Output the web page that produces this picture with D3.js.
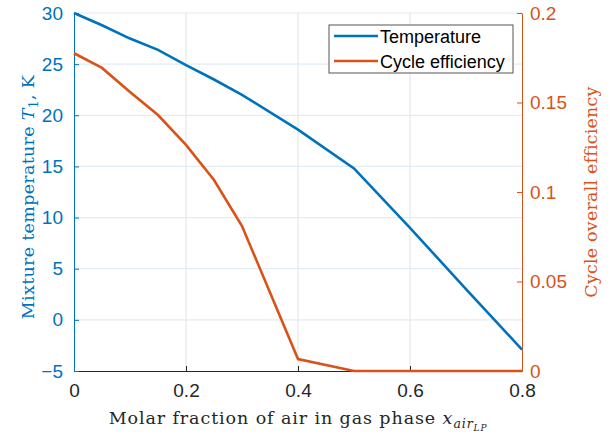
<!DOCTYPE html>
<html>
<head>
<meta charset="utf-8">
<script src="https://cdn.jsdelivr.net/npm/d3@7"></script>
<style>
  body { margin: 0; background: #fff; }
  svg text { font-family: "Liberation Sans", Arial, sans-serif; }
  .serif { font-family: "DejaVu Serif", "Liberation Serif", serif; }
</style>
</head>
<body>
<svg id="chart" width="612" height="437"></svg>
<script>
// data
const xVals = [0, 0.05, 0.1, 0.15, 0.2, 0.25, 0.3, 0.4, 0.5, 0.6, 0.7, 0.8];
const temperature = [30, 28.8, 27.5, 26.4, 24.9, 23.5, 22.0, 18.6, 14.8, 9.0, 3.0, -2.9];
const efficiency = [0.1775, 0.1693, 0.1559, 0.143, 0.1263, 0.1067, 0.081, 0.0067, 0, 0, 0, 0];
const xTicks = [0, 0.2, 0.4, 0.6, 0.8];
const leftTicks = [-5, 0, 5, 10, 15, 20, 25, 30];
const rightTicks = [0, 0.05, 0.1, 0.15, 0.2];
const seriesNames = ["Temperature", "Cycle efficiency"];

const blue = "#0072BD", orange = "#D95319", dark = "#262626";

const svg = d3.select("#chart"),
      margin = {top: 13, right: 90, bottom: 66, left: 74},
      width = 612 - margin.left - margin.right,
      height = 437 - margin.top - margin.bottom;

const x = d3.scaleLinear().domain([0, 0.8]).range([0, width]);
const yL = d3.scaleLinear().domain([-5, 30]).range([height, 0]);
const yR = d3.scaleLinear().domain([0, 0.2]).range([height, 0]);

const g = svg.append("g").attr("transform", `translate(${margin.left},${margin.top})`);

// grid
g.append("g").selectAll("line").data(xTicks.slice(1, -1)).join("line")
  .attr("x1", d => x(d)).attr("x2", d => x(d))
  .attr("y1", 0).attr("y2", height)
  .attr("stroke", "#dfe2e6").attr("stroke-width", 1);
g.append("g").selectAll("line").data(leftTicks.slice(1)).join("line")
  .attr("x1", 0).attr("x2", width)
  .attr("y1", d => yL(d)).attr("y2", d => yL(d))
  .attr("stroke", "#e2ecf6").attr("stroke-width", 1.2);

// axes
const xAxis = g.append("g").attr("transform", `translate(0,${height})`)
  .call(d3.axisBottom(x).tickValues(xTicks).tickSizeInner(-5).tickSizeOuter(0).tickPadding(13)
    .tickFormat(d => d === 0 ? "0" : d3.format("")(d)));
xAxis.select(".domain").attr("stroke", dark);
xAxis.selectAll(".tick line").attr("stroke", dark);
xAxis.selectAll("text").attr("fill", dark).style("font-size", "19px");

const leftAxis = g.append("g")
  .call(d3.axisLeft(yL).tickValues(leftTicks).tickSizeInner(-5).tickSizeOuter(0).tickPadding(11));
leftAxis.select(".domain").attr("stroke", blue);
leftAxis.selectAll(".tick line").attr("stroke", blue);
leftAxis.selectAll("text").attr("fill", blue).style("font-size", "19px");

const rightAxis = g.append("g").attr("transform", `translate(${width},0)`)
  .call(d3.axisRight(yR).tickValues(rightTicks).tickSizeInner(-5).tickSizeOuter(0).tickPadding(8)
    .tickFormat(d => d === 0 ? "0" : d3.format("")(d)));
rightAxis.select(".domain").attr("stroke", orange);
rightAxis.selectAll(".tick line").attr("stroke", orange);
rightAxis.selectAll("text").attr("fill", orange).style("font-size", "19px");

// lines
const tempLine = d3.line().x((d, i) => x(xVals[i])).y(d => yL(d));
const effLine = d3.line().x((d, i) => x(xVals[i])).y(d => yR(d));

g.append("path").datum(efficiency).attr("d", effLine)
  .attr("fill", "none").attr("stroke", orange).attr("stroke-width", 2.6);
g.append("path").datum(temperature).attr("d", tempLine)
  .attr("fill", "none").attr("stroke", blue).attr("stroke-width", 2.6);

// axis labels
const xl = svg.append("text").attr("class", "serif")
  .attr("x", margin.left + width / 2).attr("y", 424)
  .attr("text-anchor", "middle").attr("fill", dark)
  .style("font-size", "17.5px").style("letter-spacing", "0.9px");
xl.append("tspan").text("Molar fraction of air in gas phase ");
xl.append("tspan").attr("font-style", "italic").text("x");
xl.append("tspan").attr("font-style", "italic").attr("dy", 4).style("font-size", "12.5px").text("air");
xl.append("tspan").attr("font-style", "italic").attr("dy", 3).style("font-size", "9px").text("LP");

const yl = svg.append("text").attr("class", "serif")
  .attr("transform", `translate(34,${margin.top + height / 2 + 5}) rotate(-90)`)
  .attr("text-anchor", "middle").attr("fill", blue)
  .style("font-size", "17.5px").style("letter-spacing", "0.3px");
yl.append("tspan").text("Mixture temperature ");
yl.append("tspan").attr("font-style", "italic").text("T");
yl.append("tspan").attr("dy", 4).style("font-size", "12.5px").text("1");
yl.append("tspan").attr("dy", -4).text(", K");

svg.append("text").attr("class", "serif")
  .attr("transform", `translate(597,${margin.top + height / 2}) rotate(-90)`)
  .attr("text-anchor", "middle").attr("fill", orange)
  .style("font-size", "17.5px").style("letter-spacing", "0.2px")
  .text("Cycle overall efficiency");

// legend
const legend = svg.append("g").attr("transform", "translate(329,25)");
legend.append("rect").attr("width", 184).attr("height", 48)
  .attr("fill", "#fff").attr("stroke", "#555").attr("stroke-width", 1);
legend.selectAll("g.item").data(seriesNames).join("g").attr("class", "item")
  .attr("transform", (d, i) => `translate(0,${11 + i * 25})`)
  .each(function (d, i) {
    const it = d3.select(this);
    it.append("line").attr("x1", 5).attr("x2", 49).attr("y1", 0).attr("y2", 0)
      .attr("stroke", i === 0 ? blue : orange).attr("stroke-width", 2.6);
    it.append("text").attr("x", 51).attr("y", 6.5).attr("fill", "#000")
      .style("font-size", "18px").text(d);
  });
</script>
</body>
</html>
